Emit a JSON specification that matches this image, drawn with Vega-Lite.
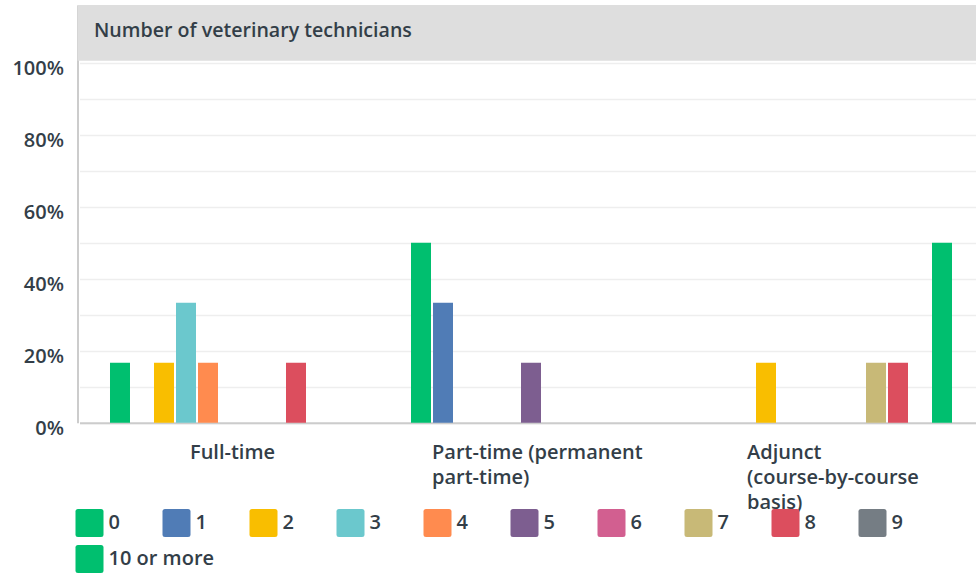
{
  "$schema": "https://vega.github.io/schema/vega-lite/v6.json",
  "width": 898.5,
  "height": 417.7,
  "autosize": {"type": "none"},
  "padding": {"left": 77.5, "top": 5, "right": 0, "bottom": 151.3},
  "background": "white",
  "config": {"view": {"stroke": null}, "font": "Open Sans"},
  "data": {"values": [
    {"group": "Full-time", "series": "0", "pct": 16.67},
    {"group": "Full-time", "series": "2", "pct": 16.67},
    {"group": "Full-time", "series": "3", "pct": 33.33},
    {"group": "Full-time", "series": "4", "pct": 16.67},
    {"group": "Full-time", "series": "8", "pct": 16.67},
    {"group": "Part-time (permanent part-time)", "series": "0", "pct": 50},
    {"group": "Part-time (permanent part-time)", "series": "1", "pct": 33.33},
    {"group": "Part-time (permanent part-time)", "series": "5", "pct": 16.67},
    {"group": "Adjunct (course-by-course basis)", "series": "2", "pct": 16.67},
    {"group": "Adjunct (course-by-course basis)", "series": "7", "pct": 16.67},
    {"group": "Adjunct (course-by-course basis)", "series": "8", "pct": 16.67},
    {"group": "Adjunct (course-by-course basis)", "series": "10 or more", "pct": 50}
  ]},
  "layer": [
    {
      "transform": [{"filter": "datum.series != '10 or more'"}],
      "mark": {"type": "bar"},
      "encoding": {
        "x": {
          "field": "group", "type": "nominal", "title": null,
          "sort": ["Full-time", "Part-time (permanent part-time)", "Adjunct (course-by-course basis)"],
          "scale": {"domain": ["Full-time", "Part-time (permanent part-time)", "Adjunct (course-by-course basis)"], "range": [2, 905], "paddingInner": 0.0565, "paddingOuter": 0.02824},
          "axis": {
            "title": null, "labelAngle": 0, "ticks": false, "grid": false,
            "domainColor": "#cccccc", "domainWidth": 2,
            "labelFontSize": 20, "labelFontWeight": 600, "labelColor": "#333e48",
            "labelAlign": "left", "labelBaseline": "top", "labelPadding": 20, "labelLineHeight": 25,
            "labelLimit": 0, "labelOverlap": false, "labelBound": false, "labelFlush": false,
            "labelOffset": {"condition": [
              {"test": "datum.value == 'Full-time'", "value": -40},
              {"test": "datum.value == 'Part-time (permanent part-time)'", "value": -99}
            ], "value": -85},
            "labelExpr": "datum.value == 'Full-time' ? 'Full-time' : (datum.value == 'Part-time (permanent part-time)' ? ['Part-time (permanent', 'part-time)'] : ['Adjunct', '(course-by-course', 'basis)'])"
          }
        },
        "xOffset": {
          "field": "series", "type": "nominal",
          "scale": {"domain": ["0","1","2","3","4","5","6","7","8","9","10 or more"], "paddingInner": 0.0909, "paddingOuter": 1}
        },
        "y": {
          "field": "pct", "type": "quantitative", "title": null,
          "scale": {"domain": [0, 116], "nice": false, "zero": true},
          "axis": {
            "title": null, "values": [0,10,20,30,40,50,60,70,80,90,100],
            "labelExpr": "datum.value % 20 == 0 ? datum.value + '%' : ''",
            "ticks": false, "domain": true, "domainColor": "#cccccc", "domainWidth": 2,
            "grid": true, "gridColor": "#eeeeee", "gridWidth": 1.5,
            "labelFontSize": 20, "labelFontWeight": 600, "labelColor": "#333e48",
            "labelPadding": 14, "labelOffset": 6, "zindex": 0
          }
        },
        "color": {
          "field": "series", "type": "nominal",
          "scale": {
            "domain": ["0","1","2","3","4","5","6","7","8","9"],
            "range": ["#00BF6F","#507CB6","#F9BE00","#6BC8CD","#FF8B4F","#7D5E90","#D25F90","#C8B977","#DC4E5E","#757D84"]
          },
          "legend": {
            "title": null, "orient": "none", "legendX": -2, "legendY": 504,
            "direction": "horizontal", "columnPadding": 42,
            "symbolType": "M-0.82,-1L0.82,-1Q1,-1,1,-0.82L1,0.82Q1,1,0.82,1L-0.82,1Q-1,1,-1,0.82L-1,-0.82Q-1,-1,-0.82,-1Z",
            "symbolSize": 784, "symbolStrokeWidth": 0, "symbolOpacity": 1,
            "labelFontSize": 20, "labelFontWeight": 600, "labelColor": "#333e48",
            "labelOffset": 5, "labelLimit": 0
          }
        }
      }
    },
    {
      "transform": [{"filter": "datum.series == '10 or more'"}],
      "mark": {"type": "bar"},
      "encoding": {
        "x": {"field": "group", "type": "nominal", "title": null, "sort": ["Full-time", "Part-time (permanent part-time)", "Adjunct (course-by-course basis)"]},
        "xOffset": {"field": "series", "type": "nominal"},
        "y": {"field": "pct", "type": "quantitative", "title": null},
        "color": {
          "field": "series", "type": "nominal",
          "scale": {"domain": ["10 or more"], "range": ["#00BF6F"]},
          "legend": {
            "title": null, "orient": "none", "legendX": -2, "legendY": 540,
            "direction": "horizontal",
            "symbolType": "M-0.82,-1L0.82,-1Q1,-1,1,-0.82L1,0.82Q1,1,0.82,1L-0.82,1Q-1,1,-1,0.82L-1,-0.82Q-1,-1,-0.82,-1Z",
            "symbolSize": 784, "symbolStrokeWidth": 0, "symbolOpacity": 1,
            "labelFontSize": 20, "labelFontWeight": 600, "labelColor": "#333e48",
            "labelOffset": 5, "labelLimit": 0
          }
        }
      }
    },
    {
      "data": {"values": [{"y1": 100.5, "y2": 116}]},
      "mark": {"type": "rect", "color": "#dedede"},
      "encoding": {
        "y": {"field": "y1", "type": "quantitative", "title": null},
        "y2": {"field": "y2"}
      }
    },
    {
      "data": {"values": [{"label": "Number of veterinary technicians", "pos": 108.8}]},
      "mark": {"type": "text", "align": "left", "baseline": "middle", "dx": 6, "fontSize": 19.6, "fontWeight": 600, "color": "#333e48"},
      "encoding": {
        "x": {"datum": "Full-time", "type": "nominal", "bandPosition": 0, "title": null},
        "y": {"field": "pos", "type": "quantitative", "title": null},
        "text": {"field": "label"}
      }
    }
  ],
  "resolve": {"scale": {"color": "independent"}, "legend": {"color": "independent"}}
}
